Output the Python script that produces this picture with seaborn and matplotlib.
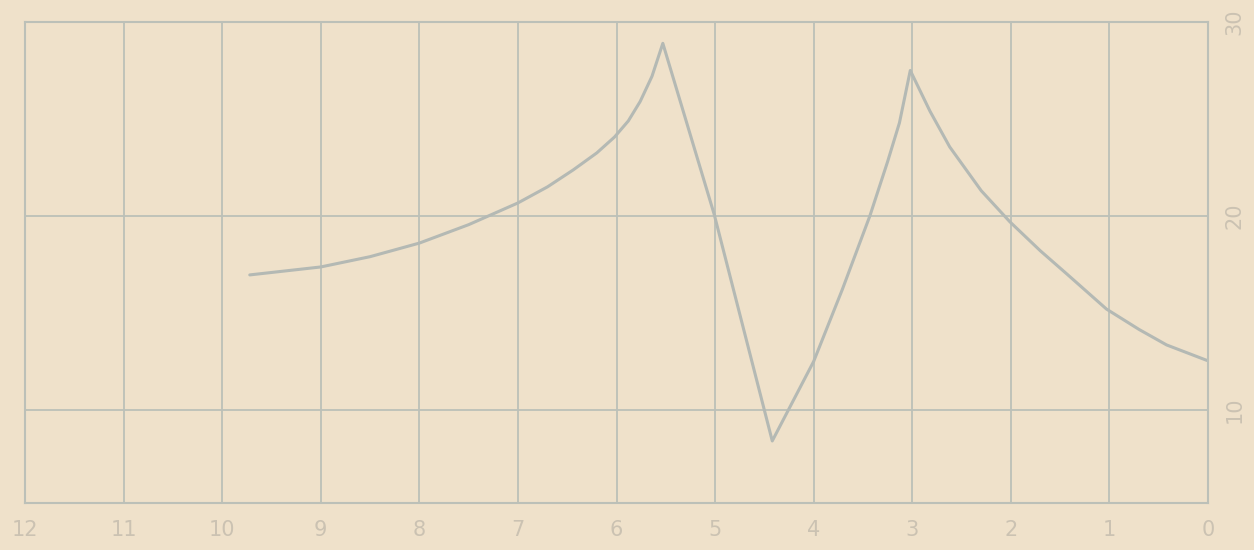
import matplotlib
matplotlib.use('Agg')
import matplotlib.pyplot as plt
import pandas as pd
import seaborn as sns

# Values (x axis runs 12 -> 0)
x_vals = [9.72, 9.0, 8.5, 8.0, 7.5, 7.0, 6.7, 6.44, 6.2, 6.02, 5.88, 5.76, 5.64, 5.53,
          5.01, 4.42, 4.0, 3.71, 3.43, 3.25, 3.13, 3.02,
          2.82, 2.62, 2.3, 2.01, 1.7, 1.43, 1.03, 0.7, 0.42, 0.01]
y_vals = [16.96, 17.37, 17.9, 18.6, 19.55, 20.67, 21.5, 22.37, 23.25, 24.07, 24.9, 25.9, 27.2, 28.9,
          20.1, 8.4, 12.5, 16.2, 20.0, 22.8, 24.8, 27.5,
          25.4, 23.56, 21.3, 19.7, 18.2, 17.0, 15.2, 14.15, 13.35, 12.55]
x_ticks = [12, 11, 10, 9, 8, 7, 6, 5, 4, 3, 2, 1, 0]
y_ticks = [30, 20, 10]

df = pd.DataFrame({'x': x_vals, 'y': y_vals})

paper = '#efe1ca'
ink = '#bcc0b8'

sns.set_style('white', {'axes.facecolor': paper, 'figure.facecolor': paper})
plt.rcParams['font.family'] = ['DejaVu Sans']

fig = plt.figure(figsize=(12.54, 5.5), dpi=100)
ax = fig.add_axes([25 / 1254, 1 - 503 / 550, (1208 - 25) / 1254, (503 - 22) / 550])

sns.lineplot(data=df, x='x', y='y', ax=ax, color='#b4b9b4', linewidth=2.2, sort=False)

ax.set_xlim(12, 0)
ax.set_ylim(5.2, 30)
ax.set_xticks(x_ticks)
ax.set_yticks(y_ticks)
ax.grid(True, color=ink, linewidth=1.3)
for s in ax.spines.values():
    s.set_color(ink)
    s.set_linewidth(1.5)

ax.set_xticklabels([str(t) for t in x_ticks], color='#cbc2b2', fontsize=15)
ax.tick_params(axis='x', length=0, pad=12)
ax.yaxis.tick_right()
ax.set_yticklabels([str(t) for t in y_ticks], color='#cbc2b2', fontsize=15, rotation=90, va='center')
ax.tick_params(axis='y', length=0, pad=12)
ax.set_xlabel('')
ax.set_ylabel('')

fig.savefig('out.png', dpi=100, facecolor=paper)
